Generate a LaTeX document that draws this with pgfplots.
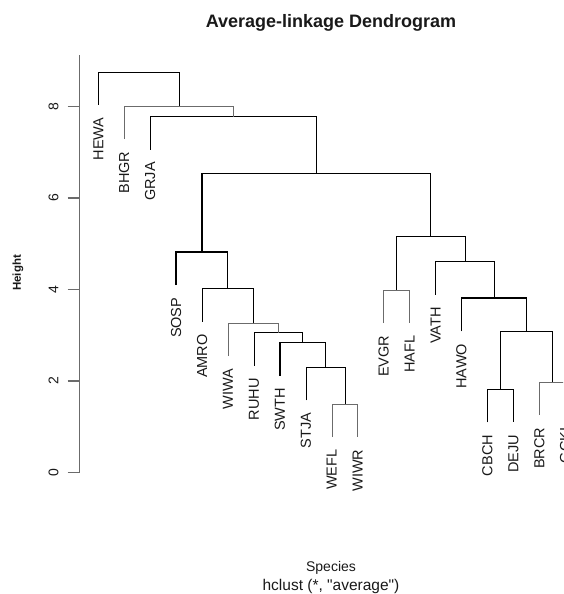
\documentclass[border=0pt]{standalone}
\usepackage{pgfplots}
\pgfplotsset{compat=1.18}
\usepackage{fontspec}
\setmainfont{Liberation Sans}
\definecolor{dline}{gray}{0.42}
\definecolor{dtext}{gray}{0.10}
\tikzset{leaf/.style={rotate=90, anchor=east, inner sep=0pt, outer xsep=12.5pt,
    font=\fontsize{14.5}{14.5}\selectfont, text=dtext}}
\begin{document}
\begin{tikzpicture}
\useasboundingbox (0pt,0pt) rectangle (563pt,594pt);
\clip (0pt,0pt) rectangle (563pt,594pt);
\begin{axis}[
  at={(79.6pt,121.5pt)}, anchor=south west, scale only axis,
  width=504.3pt, height=417.7pt,
  xmin=0.28, xmax=19.72, ymin=0, ymax=9.13,
  axis x line=none, axis y line=left,
  axis line style={-, dline, line width=1.4pt},
  ytick={0,2,4,6,8}, tick align=outside, major tick length=12pt,
  tick style={dline, line width=1.4pt},
  yticklabel shift=9pt,
  yticklabel style={rotate=90, anchor=south, inner sep=0pt,
    font=\fontsize{14}{14}\selectfont, text=dtext},
  /pgf/number format/assume math mode=true,
  clip=false,
  cycle list={{dline, solid, line width=1.4pt, mark=none}},
]
% merges: left leg bottom, top, right leg bottom
\addplot coordinates {(10,0.774)(10,1.50)(11,1.50)(11,0.774)};
\addplot coordinates {(9,1.574)(9,2.30)(10.5,2.30)(10.5,1.50)};
\addplot coordinates {(8,2.114)(8,2.84)(9.75,2.84)(9.75,2.30)};
\addplot coordinates {(7,2.334)(7,3.06)(8.875,3.06)(8.875,2.84)};
\addplot coordinates {(6,2.544)(6,3.27)(7.9375,3.27)(7.9375,3.06)};
\addplot coordinates {(5,3.294)(5,4.02)(6.96875,4.02)(6.96875,3.27)};
\addplot coordinates {(4,4.094)(4,4.82)(5.984375,4.82)(5.984375,4.02)};
\addplot coordinates {(16,1.094)(16,1.82)(17,1.82)(17,1.094)};
\addplot coordinates {(18,1.254)(18,1.98)(19,1.98)(19,1.254)};
\addplot coordinates {(16.5,1.82)(16.5,3.08)(18.5,3.08)(18.5,1.98)};
\addplot coordinates {(15,3.084)(15,3.81)(17.5,3.81)(17.5,3.08)};
\addplot coordinates {(14,3.884)(14,4.61)(16.25,4.61)(16.25,3.81)};
\addplot coordinates {(12,3.264)(12,3.99)(13,3.99)(13,3.264)};
\addplot coordinates {(12.5,3.99)(12.5,5.17)(15.125,5.17)(15.125,4.61)};
\addplot coordinates {(4.9921875,4.82)(4.9921875,6.54)(13.8125,6.54)(13.8125,5.17)};
\addplot coordinates {(3,7.054)(3,7.78)(9.40234,7.78)(9.40234,6.54)};
\addplot coordinates {(2,7.284)(2,8.01)(6.20117,8.01)(6.20117,7.78)};
\addplot coordinates {(1,8.034)(1,8.76)(4.10059,8.76)(4.10059,8.01)};
% leaf labels
\node[leaf] at (axis cs:1,8.034) {HEWA};
\node[leaf] at (axis cs:2,7.284) {BHGR};
\node[leaf] at (axis cs:3,7.054) {GRJA};
\node[leaf] at (axis cs:4,4.094) {SOSP};
\node[leaf] at (axis cs:5,3.294) {AMRO};
\node[leaf] at (axis cs:6,2.544) {WIWA};
\node[leaf] at (axis cs:7,2.334) {RUHU};
\node[leaf] at (axis cs:8,2.114) {SWTH};
\node[leaf] at (axis cs:9,1.574) {STJA};
\node[leaf] at (axis cs:10,0.774) {WEFL};
\node[leaf] at (axis cs:11,0.774) {WIWR};
\node[leaf] at (axis cs:12,3.264) {EVGR};
\node[leaf] at (axis cs:13,3.264) {HAFL};
\node[leaf] at (axis cs:14,3.884) {VATH};
\node[leaf] at (axis cs:15,3.084) {HAWO};
\node[leaf] at (axis cs:16,1.094) {CBCH};
\node[leaf] at (axis cs:17,1.094) {DEJU};
\node[leaf] at (axis cs:18,1.254) {BRCR};
\node[leaf] at (axis cs:19,1.254) {GCKI};
\end{axis}
\node[anchor=base, inner sep=0pt, text=dtext, font=\fontsize{18}{18}\selectfont\bfseries] at (331pt,566pt) {Average-linkage Dendrogram};
\node[anchor=center, rotate=90, inner sep=0pt, text=dtext, font=\fontsize{11.5}{11.5}\selectfont\bfseries] at (18pt,321pt) {Height};
\node[anchor=base, inner sep=0pt, text=dtext, font=\fontsize{14}{14}\selectfont] at (331pt,23pt) {Species};
\node[anchor=base, inner sep=0pt, text=dtext, font=\fontsize{15.5}{15.5}\selectfont] at (331pt,4pt) {hclust (*, \textquotedbl average\textquotedbl)};
\end{tikzpicture}
\end{document}
